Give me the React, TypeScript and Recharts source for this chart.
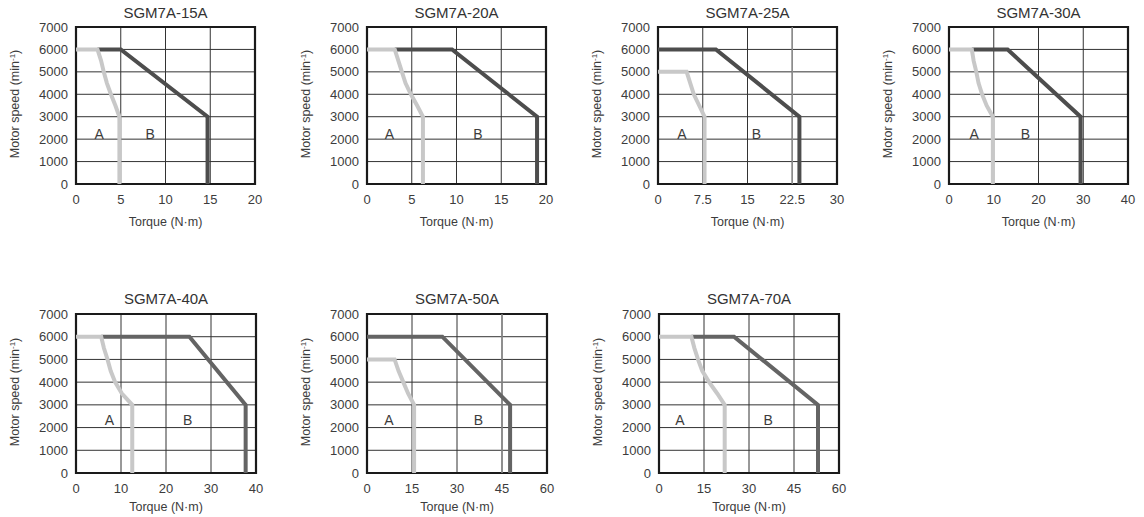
import React from 'react';
import {
  LineChart,
  Line,
  XAxis,
  YAxis,
  CartesianGrid,
  ReferenceArea,
  ReferenceLine,
  ReferenceDot,
} from 'recharts';

// ---------- tick labels ----------
const speedTicks = [0, 1000, 2000, 3000, 4000, 5000, 6000, 7000];
const torqueTicks20 = [0, 5, 10, 15, 20];
const torqueTicks30 = [0, 7.5, 15, 22.5, 30];
const torqueTicks40 = [0, 10, 20, 30, 40];
const torqueTicks60 = [0, 15, 30, 45, 60];

// ---------- SGM7A-15A ----------
const a15Torque = [0, 2.4, 2.8, 3.1, 3.45, 3.9, 4.4, 4.85, 4.85];
const a15Speed = [6000, 6000, 5500, 5000, 4500, 4000, 3500, 3000, 0];
const b15Torque = [2.4, 5.0, 14.7, 14.7];
const b15Speed = [6000, 6000, 3000, 0];

// ---------- SGM7A-20A ----------
const a20Torque = [0, 3.1, 3.5, 3.9, 4.3, 4.9, 5.6, 6.25, 6.25];
const a20Speed = [6000, 6000, 5500, 5000, 4500, 4000, 3500, 3000, 0];
const b20Torque = [3.1, 9.5, 19.0, 19.0];
const b20Speed = [6000, 6000, 3000, 0];

// ---------- SGM7A-25A ----------
const a25Torque = [0, 4.8, 5.4, 6.0, 6.9, 7.8, 7.8];
const a25Speed = [5000, 5000, 4500, 4000, 3500, 3000, 0];
const b25Torque = [0, 9.7, 23.7, 23.7];
const b25Speed = [6000, 6000, 3000, 0];

// ---------- SGM7A-30A ----------
const a30Torque = [0, 5.1, 5.5, 6.1, 6.6, 7.4, 8.4, 9.8, 9.8];
const a30Speed = [6000, 6000, 5500, 5000, 4500, 4000, 3500, 3000, 0];
const b30Torque = [5.1, 13.1, 29.4, 29.4];
const b30Speed = [6000, 6000, 3000, 0];

// ---------- SGM7A-40A ----------
const a40Torque = [0, 5.6, 6.2, 7.0, 7.7, 8.7, 10.2, 12.5, 12.5];
const a40Speed = [6000, 6000, 5500, 5000, 4500, 4000, 3500, 3000, 0];
const b40Torque = [5.6, 25.2, 37.7, 37.7];
const b40Speed = [6000, 6000, 3000, 0];

// ---------- SGM7A-50A ----------
const a50Torque = [0, 9.2, 10.5, 12.1, 13.7, 15.7, 15.7];
const a50Speed = [5000, 5000, 4500, 4000, 3500, 3000, 0];
const b50Torque = [0, 25.1, 47.7, 47.7];
const b50Speed = [6000, 6000, 3000, 0];

// ---------- SGM7A-70A ----------
const a70Torque = [0, 10.8, 11.8, 13.0, 14.4, 16.7, 19.4, 21.9, 21.9];
const a70Speed = [6000, 6000, 5500, 5000, 4500, 4000, 3500, 3000, 0];
const b70Torque = [10.8, 25.0, 53.0, 53.0];
const b70Speed = [6000, 6000, 3000, 0];

const zip = (t: number[], s: number[]) => t.map((x, i) => ({ torque: x, speed: s[i] }));

const FONT = '"Liberation Sans", Arial, Helvetica, sans-serif';
const TEXT = '#3c3c3c';

type ChartProps = {
  title: string;
  plotLeft: number;
  plotTop: number;
  plotW: number;
  plotH: number;
  xTicks: number[];
  aData: { torque: number; speed: number }[];
  bData: { torque: number; speed: number }[];
  bColor: string;
  labelAx: number;
  labelBx: number;
  labelY: number;
  grayLine?: number;
  axisTitleGap: number;
  titleGap: number;
};

function MotorChart(p: ChartProps) {
  const W = 76 + p.plotW + 10;
  const H = 27 + p.plotH + 45;
  const xMax = p.xTicks[p.xTicks.length - 1];
  const titleCy = p.plotTop - p.titleGap;
  const axisCy = p.plotTop + p.plotH + p.axisTitleGap;
  const yCx = p.plotLeft - 61;
  const yCy = p.plotTop + p.plotH / 2 - 2;

  return (
    <>
      <div style={{ position: 'absolute', left: p.plotLeft - 76, top: p.plotTop - 27, fontFamily: FONT }}>
        <LineChart width={W} height={H} margin={{ top: 27, right: 10, bottom: 0, left: 0 }}>
          <CartesianGrid stroke="#333" strokeWidth={1} />
          <XAxis
            type="number"
            dataKey="torque"
            domain={[0, xMax]}
            ticks={p.xTicks}
            interval={0}
            tickSize={0}
            tickMargin={11}
            axisLine={false}
            tickLine={false}
            height={45}
            tick={{ fontSize: 13, fill: TEXT }}
          />
          <YAxis
            type="number"
            domain={[0, 7000]}
            ticks={speedTicks}
            interval={0}
            width={76}
            tickSize={0}
            tickMargin={8}
            axisLine={false}
            tickLine={false}
            tick={{ fontSize: 13, fill: TEXT }}
          />
          {p.grayLine !== undefined && (
            <ReferenceLine x={p.grayLine} stroke="#8c8c8c" strokeWidth={1.5} />
          )}
          <Line
            data={p.bData}
            dataKey="speed"
            type="linear"
            stroke={p.bColor}
            strokeWidth={4}
            dot={false}
            activeDot={false}
            isAnimationActive={false}
          />
          <Line
            data={p.aData}
            dataKey="speed"
            type="linear"
            stroke="#c8c8c8"
            strokeWidth={4}
            dot={false}
            activeDot={false}
            isAnimationActive={false}
          />
          <ReferenceDot
            x={p.labelAx}
            y={p.labelY}
            r={0}
            fill="none"
            stroke="none"
            label={{ value: 'A', position: 'center', fontSize: 14, fill: TEXT }}
          />
          <ReferenceDot
            x={p.labelBx}
            y={p.labelY}
            r={0}
            fill="none"
            stroke="none"
            label={{ value: 'B', position: 'center', fontSize: 14, fill: TEXT }}
          />
          <ReferenceArea
            x1={0}
            x2={xMax}
            y1={0}
            y2={7000}
            fill="none"
            fillOpacity={0}
            stroke="#1a1a1a"
            strokeWidth={2.2}
            ifOverflow="visible"
          />
        </LineChart>
      </div>
      <div
        style={{
          position: 'absolute',
          left: p.plotLeft - 20,
          width: p.plotW + 40,
          top: titleCy - 9,
          height: 18,
          lineHeight: '18px',
          textAlign: 'center',
          fontFamily: FONT,
          fontSize: 15,
          fontWeight: 400,
          color: '#333',
        }}
      >
        {p.title}
      </div>
      <div
        style={{
          position: 'absolute',
          left: p.plotLeft,
          width: p.plotW,
          top: axisCy - 8,
          height: 16,
          lineHeight: '16px',
          textAlign: 'center',
          fontFamily: FONT,
          fontSize: 12.5,
          color: TEXT,
        }}
      >
        Torque (N·m)
      </div>
      <div
        style={{
          position: 'absolute',
          left: yCx - 80,
          top: yCy - 8,
          width: 160,
          height: 16,
          lineHeight: '16px',
          textAlign: 'center',
          fontFamily: FONT,
          fontSize: 12.5,
          fontWeight: 400,
          color: TEXT,
          transform: 'rotate(-90deg)',
          whiteSpace: 'nowrap',
        }}
      >
        Motor speed (min
        <span style={{ fontSize: 8, position: 'relative', top: -4 }}>-1</span>)
      </div>
    </>
  );
}

export default function App() {
  const row1 = { plotTop: 27, plotH: 157, plotW: 179, axisTitleGap: 38, titleGap: 13.7, labelY: 2250 };
  const row2 = { plotTop: 314, plotH: 159, plotW: 180, axisTitleGap: 34, titleGap: 15, labelY: 2350 };
  const dark1 = '#4d4d4d';
  const dark2 = '#646464';
  return (
    <div style={{ position: 'absolute', left: 0, top: 0, width: 1144, height: 517, background: '#fff' }}>
      <MotorChart
        {...row1}
        title="SGM7A-15A"
        plotLeft={76}
        xTicks={torqueTicks20}
        aData={zip(a15Torque, a15Speed)}
        bData={zip(b15Torque, b15Speed)}
        bColor={dark1}
        labelAx={2.6}
        labelBx={8.3}
      />
      <MotorChart
        {...row1}
        title="SGM7A-20A"
        plotLeft={367}
        xTicks={torqueTicks20}
        aData={zip(a20Torque, a20Speed)}
        bData={zip(b20Torque, b20Speed)}
        bColor={dark1}
        labelAx={2.5}
        labelBx={12.4}
      />
      <MotorChart
        {...row1}
        title="SGM7A-25A"
        plotLeft={658}
        xTicks={torqueTicks30}
        aData={zip(a25Torque, a25Speed)}
        bData={zip(b25Torque, b25Speed)}
        bColor={dark1}
        labelAx={4.0}
        labelBx={16.5}
        grayLine={22.5}
      />
      <MotorChart
        {...row1}
        title="SGM7A-30A"
        plotLeft={949}
        xTicks={torqueTicks40}
        aData={zip(a30Torque, a30Speed)}
        bData={zip(b30Torque, b30Speed)}
        bColor={dark1}
        labelAx={5.6}
        labelBx={17.1}
      />
      <MotorChart
        {...row2}
        title="SGM7A-40A"
        plotLeft={76}
        xTicks={torqueTicks40}
        aData={zip(a40Torque, a40Speed)}
        bData={zip(b40Torque, b40Speed)}
        bColor={dark2}
        labelAx={7.4}
        labelBx={24.8}
      />
      <MotorChart
        {...row2}
        title="SGM7A-50A"
        plotLeft={367}
        xTicks={torqueTicks60}
        aData={zip(a50Torque, a50Speed)}
        bData={zip(b50Torque, b50Speed)}
        bColor={dark2}
        labelAx={7.3}
        labelBx={37.1}
        grayLine={45}
      />
      <MotorChart
        {...row2}
        title="SGM7A-70A"
        plotLeft={659}
        xTicks={torqueTicks60}
        aData={zip(a70Torque, a70Speed)}
        bData={zip(b70Torque, b70Speed)}
        bColor={dark2}
        labelAx={7.0}
        labelBx={36.4}
      />
    </div>
  );
}
